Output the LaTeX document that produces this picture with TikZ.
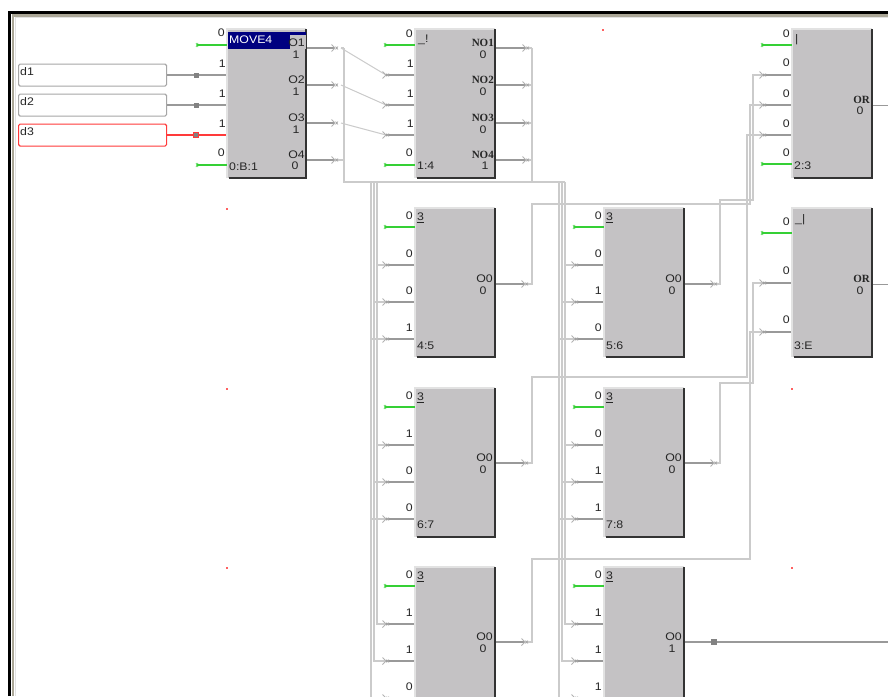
\documentclass[tikz,border=0pt]{standalone}
\usepackage{fontspec}
\usetikzlibrary{calc}
\setmainfont{Liberation Sans}[FakeStretch=1.12]
\newfontfamily\slabfont{Liberation Serif}[Scale=1.05]
\definecolor{blockgrey}{HTML}{C4C2C4}
\definecolor{edgelight}{HTML}{E2E2E2}
\definecolor{wiredark}{HTML}{999999}
\definecolor{buslight}{HTML}{CBCBCB}
\definecolor{greenwire}{HTML}{35D035}
\definecolor{redwire}{HTML}{FF3A3A}
\definecolor{framebeige}{HTML}{ABA797}
\definecolor{titleblue}{HTML}{000080}
\newcounter{lab}
\tikzset{
  blockbody/.style={fill=blockgrey,minimum width=#1,inner sep=0pt,outer sep=0pt,anchor=north west,minimum height=149pt},
  lbl/.style={font=\fontsize{11}{12}\selectfont,inner sep=0pt,text=black!85},
  slab/.style={font=\slabfont\bfseries\fontsize{10.5}{11}\selectfont,inner sep=0pt,text=black!85},
  busw/.style={draw=buslight,line width=1.2pt},
  pinw/.style={draw=wiredark,line width=1.2pt},
  greenw/.style={draw=greenwire,line width=1.3pt},
  redw/.style={draw=redwire,line width=1.3pt},
  tagbox/.style={draw=#1,line width=1.1pt,rounded corners=1.5pt,fill=white,minimum width=148pt,minimum height=22pt,inner sep=0pt,anchor=north west},
}
% text label with an automatic name
\newcommand{\lb}[4][lbl]{\stepcounter{lab}\node[#1,#2] (t\arabic{lab}) at (#3) {#4};}
% chevron with a small cross behind it, tip at a named coordinate
\newcommand{\chev}[1]{%
  \draw[draw=black!30,line width=0.8pt] ([shift={(-3.5,-3.5)}]#1) -- (#1) -- ([shift={(-3.5,3.5)}]#1);
  \draw[draw=black!35,line width=0.6pt] ([shift={(0.5,-1.5)}]#1) -- ([shift={(3,1.5)}]#1) ([shift={(0.5,1.5)}]#1) -- ([shift={(3,-1.5)}]#1);}
% green enable stub
\newcommand{\gstub}[2]{%
  \coordinate (#1-gs) at ([xshift=-30]#2);
  \draw[greenw] (#1-gs) -- (#2);
  \draw[greenwire,line width=0.6pt] ([shift={(-1,-2)}]#1-gs) -- ([shift={(1,2)}]#1-gs) ([shift={(-1,2)}]#1-gs) -- ([shift={(1,-2)}]#1-gs);}
% edges of a block
\newcommand{\edges}[1]{%
  \draw[edgelight,line width=2pt] (#1.south west) -- (#1.north west) -- (#1.north east);
  \draw[black!80,line width=1.4pt] (#1.north east) -- (#1.south east) -- ([xshift=1.5]#1.south west);}
% small logic block: name,x,y,width,v0,v1,v2,v3,out,label
\newcommand{\smallblk}[9]{%
  \node[blockbody=#4] (#1) at (#2,#3) {};
  \edges{#1}
  \gstub{#1}{#1-g}
  \lb{anchor=west}{$(#1.north west)+(2,10)$}{\underline{3}}
  \lb{anchor=east}{$(#1-g)+(-2,-11)$}{#5}
  \lb{anchor=east}{$(#1-a)+(-2,-11)$}{#6}
  \lb{anchor=east}{$(#1-b)+(-2,-11)$}{#7}
  \lb{anchor=east}{$(#1-c)+(-2,-11)$}{#8}
  \lb{anchor=east}{$(#1-o)+(-2,-5)$}{O0}
  \lb{anchor=center}{$(#1-o)+(-12,7)$}{#9}
}
\newcommand{\pins}[3]{%
  \coordinate (#1-g) at (#2,#3+19);
  \coordinate (#1-a) at (#2,#3+57);
  \coordinate (#1-b) at (#2,#3+94);
  \coordinate (#1-c) at (#2,#3+131);
}
\begin{document}
\begin{tikzpicture}[x=1pt,y=-1pt]
\useasboundingbox (0,0) rectangle (888,696);
\clip (0,0) rectangle (888,696);
\fill[white] (0,0) rectangle (888,696);
% window frame
\coordinate (fTL) at (9.5,12);
\coordinate (fTR) at (888,12);
\coordinate (fBL) at (9.5,696);
\draw[black,line width=3pt] (fBL) -- (fTL) -- (fTR);
\draw[framebeige,line width=2.6pt] (13,696) -- (13,15.5) -- (888,15.5);
\draw[edgelight,line width=1pt] (15,696) -- (15,17.3) -- (888,17.3);
% grid dots
\foreach \gx/\gy in {603/30,227/209,227/389,792/389,227/568,792/568}
  \fill[redwire!80] (\gx-1,\gy-1) rectangle (\gx+1,\gy+1);

% ---- named pins ----
\coordinate (mv-g) at (227,45);
\coordinate (mv-a) at (227,75);
\coordinate (mv-b) at (227,105);
\coordinate (mv-c) at (227,135);
\coordinate (mv-e) at (227,165);
\coordinate (mv-o1) at (306,48);
\coordinate (mv-o2) at (306,85);
\coordinate (mv-o3) at (306,123);
\coordinate (mv-o4) at (306,160);
\coordinate (mv-t1) at (335,48);
\coordinate (mv-t2) at (335,85);
\coordinate (mv-t3) at (335,123);
\coordinate (mv-t4) at (335,160);
\coordinate (mv-x1) at (341,48);
\coordinate (mv-x2) at (341,85);
\coordinate (mv-x3) at (341,123);
\coordinate (no-g) at (415,45);
\coordinate (no-a) at (415,75);
\coordinate (no-b) at (415,105);
\coordinate (no-c) at (415,135);
\coordinate (no-e) at (415,165);
\coordinate (no-ta) at (386,75);
\coordinate (no-tb) at (386,105);
\coordinate (no-tc) at (386,135);
\coordinate (no-o1) at (495,48);
\coordinate (no-o2) at (495,85);
\coordinate (no-o3) at (495,123);
\coordinate (no-o4) at (495,160);
\coordinate (no-t1) at (526,48);
\coordinate (no-t2) at (526,85);
\coordinate (no-t3) at (526,123);
\coordinate (no-t4) at (526,160);
\coordinate (busA) at (344,48);
\coordinate (busAb) at (344,182);
\coordinate (busB) at (532,48);
\coordinate (busBb) at (532,182);
\coordinate (busC) at (565,182);
\pins{b45}{415}{208}
\pins{b56}{604}{208}
\pins{b67}{415}{388}
\pins{b78}{604}{388}
\pins{b9}{415}{567}
\pins{b10}{604}{567}
\coordinate (b45-o) at (495,284);
\coordinate (b56-o) at (684,284);
\coordinate (b67-o) at (495,463);
\coordinate (b78-o) at (684,463);
\coordinate (b9-o) at (495,642);
\coordinate (b10-o) at (684,642);
\coordinate (or-g) at (792,45);
\coordinate (or-a) at (792,75);
\coordinate (or-b) at (792,105);
\coordinate (or-c) at (792,135);
\coordinate (or-e) at (792,164);
\coordinate (or-o) at (872,105);
\coordinate (e-g) at (792,233);
\coordinate (e-a) at (792,283);
\coordinate (e-b) at (792,332);
\coordinate (e-o) at (872,284);
\coordinate (rEnd) at (888,105);
\coordinate (eEnd) at (888,284);
\coordinate (fEnd) at (888,642);

% ---- light buses ----
\draw[busw] (busA) -- (busAb) -- (busC);
\draw[busw] (busB) -- (busBb);
\draw[busw,line width=1pt] (mv-x1) -- (no-ta);
\draw[busw,line width=1pt] (mv-x2) -- (no-tb);
\draw[busw,line width=1pt] (mv-x3) -- (no-tc);
\draw[busw] (mv-x1) -- (busA);
\draw[busw] (mv-t4) -- (mv-t4 -| busA);
\foreach \n in {1,2,3,4} \draw[busw] (no-t\n) -- (no-t\n -| busB);
% vertical buses to logic blocks
\foreach \bx/\ba/\bb/\bc in {377/b45/b67/b9,565/b56/b78/b10}{
  \draw[busw] (\bx,182) -- (\bx,567+57) -- (\bc-a);
  \draw[busw] (\bx-3,182) -- (\bx-3,567+94) -- (\bc-b);
  \draw[busw] (\bx-6,182) -- (\bx-6,700);
  \draw[busw] (\bx-6,567+131) -- (\bc-c);
  \draw[busw] (\bx,208+57) -- (\ba-a);
  \draw[busw] (\bx-3,208+94) -- (\ba-b);
  \draw[busw] (\bx-6,208+131) -- (\ba-c);
  \draw[busw] (\bx,388+57) -- (\bb-a);
  \draw[busw] (\bx-3,388+94) -- (\bb-b);
  \draw[busw] (\bx-6,388+131) -- (\bb-c);
}
% outputs to OR blocks
\draw[busw] (b45-o) -- (532,284) -- (532,204) -- (750,204) -- (750,105) -- (or-b);
\draw[busw] (b56-o) -- (720,284) -- (720,200) -- (753,200) -- (753,75) -- (or-a);
\draw[busw] (b67-o) -- (532,463) -- (532,377) -- (747,377) -- (747,135) -- (or-c);
\draw[busw] (b78-o) -- (720,463) -- (720,383) -- (753,383) -- (753,283) -- (e-a);
\draw[busw] (b9-o) -- (532,642) -- (532,559) -- (750,559) -- (750,332) -- (e-b);

% ---- darker pin stubs ----
\foreach \n in {1,2,3,4} \draw[pinw] (mv-o\n) -- (mv-t\n);
\foreach \n in {1,2,3,4} \draw[pinw] (no-o\n) -- (no-t\n);
\foreach \p in {a,b,c} \draw[pinw] (no-t\p) -- (no-\p);
\foreach \b in {b45,b56,b67,b78,b9,b10}{
  \foreach \p in {a,b,c} \draw[pinw] ([xshift=-29]\b-\p) -- (\b-\p);
  \draw[pinw] (\b-o) -- ++(30,0);
}
\foreach \p in {a,b,c} \draw[pinw] ([xshift=-29]or-\p) -- (or-\p);
\foreach \p in {a,b} \draw[pinw] ([xshift=-29]e-\p) -- (e-\p);
\draw[pinw,line width=1pt] (or-o) -- (rEnd);
\draw[pinw,line width=1pt] (e-o) -- (eEnd);
\draw[pinw] (b10-o) -- (fEnd);
\fill[wiredark!85!black] (711,639) rectangle (717,645);

% ---- chevrons ----
\foreach \n in {1,2,3,4}{ \chev{mv-t\n} \chev{no-t\n} }
\foreach \p in {a,b,c}{ \chev{no-t\p} }
\foreach \b in {b45,b56,b67,b78,b9,b10}{
  \foreach \p in {a,b,c}{ \chev{$(\b-\p)+(-29,0)$} }
}
\foreach \b in {b45,b67,b9}{ \chev{$(\b-o)+(30,0)$} }
\foreach \b in {b56,b78}{ \chev{$(\b-o)+(30,0)$} }
\foreach \p in {a,b,c}{ \chev{$(or-\p)+(-29,0)$} }
\foreach \p in {a,b}{ \chev{$(e-\p)+(-29,0)$} }

% ---- text tags ----
\node[tagbox=black!35] (d1) at (18,63.5) {};
\node[tagbox=black!35] (d2) at (18,93.5) {};
\node[tagbox=redwire] (d3) at (18,123.5) {};
\lb{anchor=west}{$(d1.north west)+(2,8)$}{d1}
\lb{anchor=west}{$(d2.north west)+(2,8)$}{d2}
\lb{anchor=west}{$(d3.north west)+(2,8)$}{d3}
\draw[pinw] (d1.east |- mv-a) -- (mv-a);
\draw[pinw] (d2.east |- mv-b) -- (mv-b);
\draw[redw] (d3.east |- mv-c) -- (mv-c);
\fill[wiredark!85!black] (193.5,72.5) rectangle (198.5,77.5);
\fill[wiredark!85!black] (193.5,102.5) rectangle (198.5,107.5);
\filldraw[fill=wiredark!85!black,draw=redwire,line width=1pt] (193.5,132.5) rectangle (198.5,137.5);

% ---- MOVE4 block ----
\node[blockbody=79pt] (mv) at (227,29) {};
\edges{mv}
\gstub{mv}{mv-g}
\gstub{mve}{mv-e}
\fill[titleblue] (228,32) rectangle (306,48.5);
\fill[blockgrey] (290,35) rectangle (305.5,48.5);
\lb{anchor=west,text=white}{229,40}{MOVE4}
\lb{anchor=east}{225,33}{0}
\lb{anchor=east}{226,64}{1}
\lb{anchor=east}{226,94}{1}
\lb{anchor=east}{226,124}{1}
\lb{anchor=east}{225,153}{0}
\lb{anchor=west}{229,167}{0:B:1}
\lb{anchor=east}{305,43}{O1}
\lb{anchor=center}{296,55}{1}
\lb{anchor=east}{305,80}{O2}
\lb{anchor=center}{296,92}{1}
\lb{anchor=east}{305,118}{O3}
\lb{anchor=center}{296,130}{1}
\lb{anchor=east}{305,155}{O4}
\lb{anchor=center}{295,166}{0}

% ---- NO block ----
\node[blockbody=80pt] (no) at (415,29) {};
\edges{no}
\gstub{no}{no-g}
\gstub{noe}{no-e}
\lb{anchor=west}{418,40}{\_!}
\lb{anchor=east}{413,34}{0}
\lb{anchor=east}{414,64}{1}
\lb{anchor=east}{414,94}{1}
\lb{anchor=east}{414,124}{1}
\lb{anchor=east}{413,153}{0}
\lb{anchor=west}{417,166}{1:4}
\lb[slab]{anchor=east}{494,43}{NO1}
\lb{anchor=center}{483,55}{0}
\lb[slab]{anchor=east}{494,80}{NO2}
\lb{anchor=center}{483,92}{0}
\lb[slab]{anchor=east}{494,118}{NO3}
\lb{anchor=center}{483,130}{0}
\lb[slab]{anchor=east}{494,155}{NO4}
\lb{anchor=center}{485,166}{1}

% ---- logic blocks ----
\smallblk{b45}{415}{208}{80pt}{0}{0}{0}{1}{0}
\lb{anchor=west}{417,346}{4:5}
\smallblk{b56}{604}{208}{80pt}{0}{0}{1}{0}{0}
\lb{anchor=west}{606,346}{5:6}
\smallblk{b67}{415}{388}{80pt}{0}{1}{0}{0}{0}
\lb{anchor=west}{417,525}{6:7}
\smallblk{b78}{604}{388}{80pt}{0}{0}{1}{1}{0}
\lb{anchor=west}{606,525}{7:8}
\smallblk{b9}{415}{567}{80pt}{0}{1}{1}{0}{0}
\smallblk{b10}{604}{567}{80pt}{0}{1}{1}{1}{1}

% ---- OR block 2:3 ----
\node[blockbody=80pt] (orb) at (792,29) {};
\edges{orb}
\gstub{or}{or-g}
\gstub{ore}{or-e}
\lb{anchor=west}{795,40}{|}
\lb{anchor=east}{790,34}{0}
\lb{anchor=east}{790,63}{0}
\lb{anchor=east}{790,94}{0}
\lb{anchor=east}{790,124}{0}
\lb{anchor=east}{790,153}{0}
\lb{anchor=west}{794,166}{2:3}
\lb[slab]{anchor=east}{870,100}{OR}
\lb{anchor=center}{860,111}{0}

% ---- OR block 3:E ----
\node[blockbody=80pt] (ore3) at (792,208) {};
\edges{ore3}
\gstub{e}{e-g}
\lb{anchor=west}{795,220}{\_|}
\lb{anchor=east}{790,222}{0}
\lb{anchor=east}{790,271}{0}
\lb{anchor=east}{790,320}{0}
\lb{anchor=west}{794,346}{3:E}
\lb[slab]{anchor=east}{870,279}{OR}
\lb{anchor=center}{860,291}{0}
\end{tikzpicture}
\end{document}
